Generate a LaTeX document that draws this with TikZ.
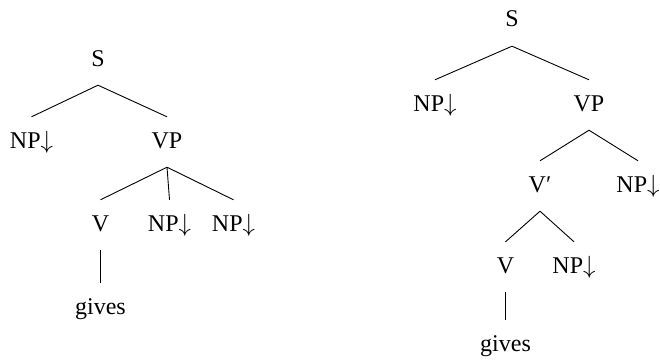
\documentclass[tikz,border=0pt]{standalone}
\usepackage{fontspec}
\setmainfont{Liberation Serif}
\newcommand{\subst}{\ensuremath{\downarrow}}
\begin{document}
\begin{tikzpicture}[x=1pt,y=-1pt,
  lbl/.style={anchor=base,font=\fontsize{24}{28}\selectfont,text height=17pt,text depth=5pt,inner xsep=0pt,inner ysep=14pt},
  edge/.style={draw=black,line width=0.9pt}]
\useasboundingbox (0,0) rectangle (660,361);
% left tree
\node[lbl] (lS) at (98,66) {S};
\node[lbl] (lNP) at (31.5,148) {NP\subst};
\node[lbl] (lVP) at (167,148) {VP};
\node[lbl] (lV) at (100.5,231) {V};
\node[lbl] (lNPa) at (169.5,231) {NP\subst};
\node[lbl] (lNPb) at (233.5,231) {NP\subst};
\node[lbl] (lg) at (100.5,314) {gives};
\draw[edge] (lS.south) -- (lNP.north);
\draw[edge] (lS.south) -- (lVP.north);
\draw[edge] (lVP.south) -- (lV.north);
\draw[edge] (lVP.south) -- (lNPa.north);
\draw[edge] (lVP.south) -- (lNPb.north);
\draw[edge] (lV.south) -- (lg.north);
% right tree
\node[lbl] (rS) at (512,27) {S};
\node[lbl] (rNP) at (435,111) {NP\subst};
\node[lbl] (rVP) at (589,111) {VP};
\node[lbl] (rVb) at (540,192) {V′};
\node[lbl] (rNPa) at (638,192) {NP\subst};
\node[lbl] (rV) at (505.5,273) {V};
\node[lbl] (rNPb) at (574,273) {NP\subst};
\node[lbl] (rg) at (505.5,351) {gives};
\draw[edge] (rS.south) -- (rNP.north);
\draw[edge] (rS.south) -- (rVP.north);
\draw[edge] (rVP.south) -- (rVb.north);
\draw[edge] (rVP.south) -- (rNPa.north);
\draw[edge] (rVb.south) -- (rV.north);
\draw[edge] (rVb.south) -- (rNPb.north);
\draw[edge] (rV.south) -- (rg.north);
\end{tikzpicture}
\end{document}
